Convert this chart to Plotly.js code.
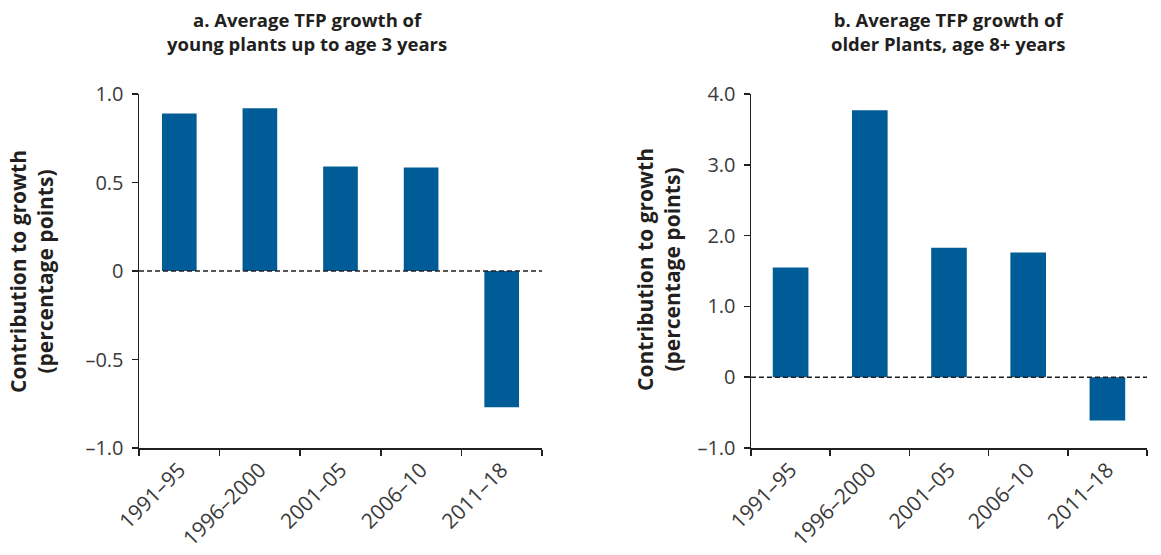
<!DOCTYPE html>
<html><head><meta charset="utf-8">
<script src="https://cdn.plot.ly/plotly-3.0.1.min.js"></script>
<style>html,body{margin:0;padding:0;background:#fff}#chart{width:1161px;height:555px}</style>
</head><body><div id="chart"></div>
<script>
const categories = ["1991–95", "1996–2000", "2001–05", "2006–10", "2011–18"];
const youngValues = [0.89, 0.92, 0.59, 0.585, -0.77];
const olderValues = [1.55, 3.77, 1.83, 1.76, -0.61];
const youngTickVals = [-1, -0.5, 0, 0.5, 1];
const youngTickText = ["–1.0", "–0.5", "0", "0.5", "1.0"];
const olderTickVals = [-1, 0, 1, 2, 3, 4];
const olderTickText = ["–1.0", "0", "1.0", "2.0", "3.0", "4.0"];
const titleA = "<b>a. Average TFP growth of<br>young plants up to age 3 years</b>";
const titleB = "<b>b. Average TFP growth of<br>older Plants, age 8+ years</b>";
const yTitle = "<b>Contribution to growth<br>(percentage points)</b>";

const W = 1161, H = 555;
const barColor = "#005c96";
const txt = "#231f20";
const fontFam = "Open Sans, sans-serif";

const traces = [
  {type: "bar", x: categories, y: youngValues, xaxis: "x", yaxis: "y", marker: {color: barColor}, width: 0.43, hoverinfo: "x+y"},
  {type: "bar", x: categories, y: olderValues, xaxis: "x2", yaxis: "y2", marker: {color: barColor}, width: 0.45, hoverinfo: "x+y"}
];

const yDom = [1 - 448 / H, 1 - 94 / H];
const xAxisCommon = {
  type: "category", showgrid: false, zeroline: false, showline: true, linecolor: "#231f20", linewidth: 1.5,
  ticks: "outside", ticklen: 6, tickwidth: 1.5, tickcolor: "#231f20", tickson: "boundaries",
  tickangle: -45, tickfont: {family: fontFam, size: 21, color: "#3a3a3a"}, fixedrange: true
};
const yAxisCommon = {
  showgrid: false, zeroline: false, showline: true, linecolor: "#231f20", linewidth: 1.5,
  ticks: "outside", ticklen: 6, tickwidth: 1.5, tickcolor: "#231f20", ticklabelstandoff: 4,
  tickfont: {family: fontFam, size: 20, color: "#3a3a3a"}, domain: yDom, fixedrange: true
};

const layout = {
  width: W, height: H,
  margin: {l: 0, r: 0, t: 0, b: 0},
  paper_bgcolor: "#fff", plot_bgcolor: "#fff",
  showlegend: false,
  font: {family: fontFam, color: txt},
  xaxis: Object.assign({}, xAxisCommon, {domain: [139 / W, 542 / W], anchor: "y"}),
  yaxis: Object.assign({}, yAxisCommon, {range: [-1, 1], tickvals: youngTickVals, ticktext: youngTickText, anchor: "x"}),
  xaxis2: Object.assign({}, xAxisCommon, {domain: [751 / W, 1147 / W], anchor: "y2"}),
  yaxis2: Object.assign({}, yAxisCommon, {range: [-1, 4], tickvals: olderTickVals, ticktext: olderTickText, anchor: "x2"}),
  shapes: [
    {type: "line", xref: "x domain", yref: "y", x0: 0, x1: 1, y0: 0, y1: 0, line: {color: "#231f20", width: 1.5, dash: "5px,3px"}},
    {type: "line", xref: "x2 domain", yref: "y2", x0: 0, x1: 1, y0: 0, y1: 0, line: {color: "#231f20", width: 1.5, dash: "5px,3px"}}
  ],
  annotations: [
    {text: titleA, xref: "paper", yref: "paper", x: 307 / W, y: 1 - 32 / H, xanchor: "center", yanchor: "middle", showarrow: false, font: {family: fontFam, size: 18.5, color: txt}},
    {text: titleB, xref: "paper", yref: "paper", x: 948 / W, y: 1 - 32 / H, xanchor: "center", yanchor: "middle", showarrow: false, font: {family: fontFam, size: 18.5, color: txt}},
    {text: yTitle, xref: "paper", yref: "paper", x: 31 / W, y: 1 - 272 / H, xanchor: "center", yanchor: "middle", textangle: -90, showarrow: false, font: {family: fontFam, size: 21, color: txt}},
    {text: yTitle, xref: "paper", yref: "paper", x: 658 / W, y: 1 - 270 / H, xanchor: "center", yanchor: "middle", textangle: -90, showarrow: false, font: {family: fontFam, size: 21, color: txt}}
  ]
};

Plotly.newPlot("chart", traces, layout, {displayModeBar: false, staticPlot: true});
</script>
</body></html>
